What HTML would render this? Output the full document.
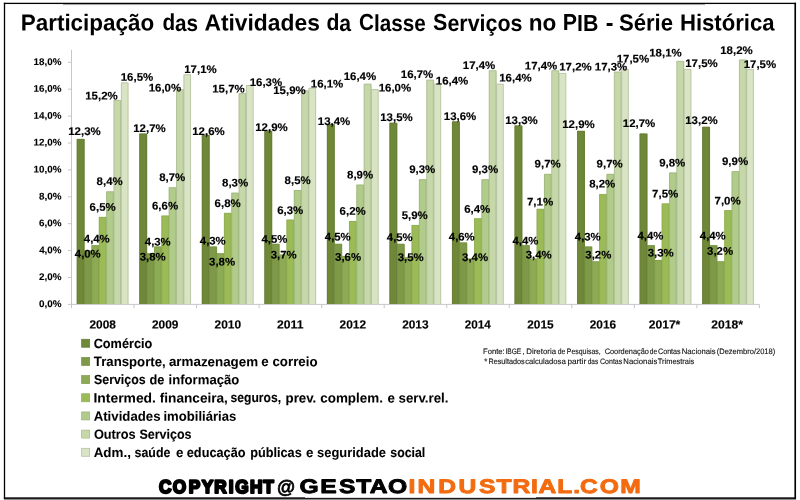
<!DOCTYPE html>
<html lang="pt-BR">
<head>
<meta charset="utf-8">
<title>Participação das Atividades da Classe Serviços no PIB - Série Histórica</title>
<style>
html,body{margin:0;padding:0;background:#fff;}
body{width:800px;height:500px;overflow:hidden;font-family:"Liberation Sans", sans-serif;}
svg{display:block;}
svg text{font-family:"Liberation Sans", sans-serif;font-weight:bold;fill:#000;text-rendering:geometricPrecision;}
svg .b text{stroke:#000;stroke-width:0.15px;stroke-linejoin:round;}
svg .l text{stroke:#000;stroke-width:0.05px;stroke-linejoin:round;}
svg .y text{stroke:#000;stroke-width:0.1px;stroke-linejoin:round;}
svg text.n{font-weight:normal;fill:#111;stroke:#111;stroke-width:0.12px;}
svg .or text{fill:#f36b10;stroke:#f36b10;}
</style>
</head>
<body>
<svg width="800" height="500" viewBox="0 0 800 500" role="img" aria-label="Participação das Atividades da Classe Serviços no PIB - Série Histórica">
<rect x="0" y="0" width="800" height="500" fill="#ffffff"/>
<rect x="4" y="498.9" width="792" height="1.1" fill="#8c8c8c"/>
<rect x="63" y="4" width="642" height="1.1" fill="#b4b4b4"/>
<g fill="#000">
<rect x="3.85" y="2.75" width="1.3" height="496.15"/>
<rect x="794.4" y="2.75" width="1.65" height="496.15"/>
<rect x="3.85" y="2.75" width="792.2" height="1.3"/>
<rect x="3.85" y="497.85" width="792.2" height="1.05"/>
<rect x="3.85" y="497.3" width="301.2" height="0.6"/>
<rect x="536" y="497.3" width="260" height="0.6"/>
</g>
<g font-size="23.2">
<text x="20.7" y="30.5" transform="rotate(0.03 20.7 30.5)" textLength="133.58" lengthAdjust="spacingAndGlyphs">Participação</text>
<text x="162.45" y="30.5" transform="rotate(0.03 162.45 30.5)" textLength="35.7" lengthAdjust="spacingAndGlyphs">das</text>
<text x="204.43" y="30.5" transform="rotate(0.03 204.43 30.5)" textLength="115.4" lengthAdjust="spacingAndGlyphs">Atividades</text>
<text x="326.43" y="30.5" transform="rotate(0.03 326.43 30.5)" textLength="24.73" lengthAdjust="spacingAndGlyphs">da</text>
<text x="358.95" y="30.5" transform="rotate(0.03 358.95 30.5)" textLength="66.76" lengthAdjust="spacingAndGlyphs">Classe</text>
<text x="433.08" y="30.5" transform="rotate(0.03 433.08 30.5)" textLength="89.4" lengthAdjust="spacingAndGlyphs">Serviços</text>
<text x="528.81" y="30.5" transform="rotate(0.03 528.81 30.5)" textLength="27.57" lengthAdjust="spacingAndGlyphs">no</text>
<text x="562.87" y="30.5" transform="rotate(0.03 562.87 30.5)" textLength="35.6" lengthAdjust="spacingAndGlyphs">PIB</text>
<text x="605.65" y="30.5" transform="rotate(0.03 605.65 30.5)">-</text>
<text x="618.96" y="30.5" transform="rotate(0.03 618.96 30.5)" textLength="54.09" lengthAdjust="spacingAndGlyphs">Série</text>
<text x="679.92" y="30.5" transform="rotate(0.03 679.92 30.5)" textLength="94.74" lengthAdjust="spacingAndGlyphs">Histórica</text>
</g>
<g stroke="#c6c6cc" stroke-width="1" fill="none">
<line x1="71.5" y1="49.7" x2="71.5" y2="304.9"/>
<line x1="71.5" y1="304.4" x2="759.44" y2="304.4"/>
<line x1="67.9" y1="304.4" x2="71.5" y2="304.4"/>
<line x1="67.9" y1="277.5" x2="71.5" y2="277.5"/>
<line x1="67.9" y1="250.6" x2="71.5" y2="250.6"/>
<line x1="67.9" y1="223.7" x2="71.5" y2="223.7"/>
<line x1="67.9" y1="196.8" x2="71.5" y2="196.8"/>
<line x1="67.9" y1="169.9" x2="71.5" y2="169.9"/>
<line x1="67.9" y1="143" x2="71.5" y2="143"/>
<line x1="67.9" y1="116.1" x2="71.5" y2="116.1"/>
<line x1="67.9" y1="89.2" x2="71.5" y2="89.2"/>
<line x1="67.9" y1="62.3" x2="71.5" y2="62.3"/>
<line x1="71.5" y1="304.4" x2="71.5" y2="308.2"/>
<line x1="134.04" y1="304.4" x2="134.04" y2="308.2"/>
<line x1="196.58" y1="304.4" x2="196.58" y2="308.2"/>
<line x1="259.12" y1="304.4" x2="259.12" y2="308.2"/>
<line x1="321.66" y1="304.4" x2="321.66" y2="308.2"/>
<line x1="384.2" y1="304.4" x2="384.2" y2="308.2"/>
<line x1="446.74" y1="304.4" x2="446.74" y2="308.2"/>
<line x1="509.28" y1="304.4" x2="509.28" y2="308.2"/>
<line x1="571.82" y1="304.4" x2="571.82" y2="308.2"/>
<line x1="634.36" y1="304.4" x2="634.36" y2="308.2"/>
<line x1="696.9" y1="304.4" x2="696.9" y2="308.2"/>
<line x1="759.44" y1="304.4" x2="759.44" y2="308.2"/>
</g>
<g class="y" font-size="9.6">
<text x="38.91" y="307" transform="rotate(0.03 38.91 307)" textLength="22.55" lengthAdjust="spacingAndGlyphs">0,0%</text>
<text x="38.96" y="280.1" transform="rotate(0.03 38.96 280.1)" textLength="22.5" lengthAdjust="spacingAndGlyphs">2,0%</text>
<text x="39.15" y="253.2" transform="rotate(0.03 39.15 253.2)" textLength="22.31" lengthAdjust="spacingAndGlyphs">4,0%</text>
<text x="38.94" y="226.3" transform="rotate(0.03 38.94 226.3)" textLength="22.52" lengthAdjust="spacingAndGlyphs">6,0%</text>
<text x="38.99" y="199.4" transform="rotate(0.03 38.99 199.4)" textLength="22.47" lengthAdjust="spacingAndGlyphs">8,0%</text>
<text x="33.58" y="172.5" transform="rotate(0.03 33.58 172.5)" textLength="27.88" lengthAdjust="spacingAndGlyphs">10,0%</text>
<text x="33.58" y="145.6" transform="rotate(0.03 33.58 145.6)" textLength="27.88" lengthAdjust="spacingAndGlyphs">12,0%</text>
<text x="33.58" y="118.7" transform="rotate(0.03 33.58 118.7)" textLength="27.88" lengthAdjust="spacingAndGlyphs">14,0%</text>
<text x="33.58" y="91.8" transform="rotate(0.03 33.58 91.8)" textLength="27.88" lengthAdjust="spacingAndGlyphs">16,0%</text>
<text x="33.58" y="64.9" transform="rotate(0.03 33.58 64.9)" textLength="27.88" lengthAdjust="spacingAndGlyphs">18,0%</text>
</g>
<g>
<rect x="76.8" y="138.96" width="7.87" height="165.04" fill="#6f8837"/>
<rect x="84.17" y="250.6" width="7.87" height="53.4" fill="#7e9a49"/>
<rect x="91.54" y="245.22" width="7.87" height="58.78" fill="#8daa55"/>
<rect x="98.91" y="216.97" width="7.87" height="87.03" fill="#9bbb57"/>
<rect x="106.28" y="191.42" width="7.87" height="112.58" fill="#b1cb8a"/>
<rect x="113.65" y="99.96" width="7.87" height="204.04" fill="#c6d7a9"/>
<rect x="121.02" y="82.47" width="7.37" height="221.53" fill="#d8e4c3"/>
<rect x="139.34" y="133.59" width="7.87" height="170.41" fill="#6f8837"/>
<rect x="146.71" y="253.29" width="7.87" height="50.71" fill="#7e9a49"/>
<rect x="154.08" y="246.56" width="7.87" height="57.44" fill="#8daa55"/>
<rect x="161.45" y="215.63" width="7.87" height="88.37" fill="#9bbb57"/>
<rect x="168.82" y="187.38" width="7.87" height="116.62" fill="#b1cb8a"/>
<rect x="176.19" y="89.2" width="7.87" height="214.8" fill="#c6d7a9"/>
<rect x="183.56" y="74.4" width="7.37" height="229.6" fill="#d8e4c3"/>
<rect x="201.88" y="134.93" width="7.87" height="169.07" fill="#6f8837"/>
<rect x="209.25" y="246.56" width="7.87" height="57.44" fill="#7e9a49"/>
<rect x="216.62" y="253.29" width="7.87" height="50.71" fill="#8daa55"/>
<rect x="223.99" y="212.94" width="7.87" height="91.06" fill="#9bbb57"/>
<rect x="231.36" y="192.76" width="7.87" height="111.24" fill="#b1cb8a"/>
<rect x="238.73" y="93.23" width="7.87" height="210.77" fill="#c6d7a9"/>
<rect x="246.1" y="85.16" width="7.37" height="218.84" fill="#d8e4c3"/>
<rect x="264.42" y="130.89" width="7.87" height="173.11" fill="#6f8837"/>
<rect x="271.79" y="243.87" width="7.87" height="60.13" fill="#7e9a49"/>
<rect x="279.16" y="254.63" width="7.87" height="49.37" fill="#8daa55"/>
<rect x="286.53" y="219.66" width="7.87" height="84.34" fill="#9bbb57"/>
<rect x="293.9" y="190.07" width="7.87" height="113.93" fill="#b1cb8a"/>
<rect x="301.27" y="90.54" width="7.87" height="213.46" fill="#c6d7a9"/>
<rect x="308.64" y="87.85" width="7.37" height="216.15" fill="#d8e4c3"/>
<rect x="326.96" y="124.17" width="7.87" height="179.83" fill="#6f8837"/>
<rect x="334.33" y="243.87" width="7.87" height="60.13" fill="#7e9a49"/>
<rect x="341.7" y="255.98" width="7.87" height="48.02" fill="#8daa55"/>
<rect x="349.07" y="221.01" width="7.87" height="82.99" fill="#9bbb57"/>
<rect x="356.44" y="184.69" width="7.87" height="119.31" fill="#b1cb8a"/>
<rect x="363.81" y="83.82" width="7.87" height="220.18" fill="#c6d7a9"/>
<rect x="371.18" y="89.2" width="7.37" height="214.8" fill="#d8e4c3"/>
<rect x="389.5" y="122.82" width="7.87" height="181.18" fill="#6f8837"/>
<rect x="396.87" y="243.87" width="7.87" height="60.13" fill="#7e9a49"/>
<rect x="404.24" y="257.32" width="7.87" height="46.68" fill="#8daa55"/>
<rect x="411.61" y="225.04" width="7.87" height="78.96" fill="#9bbb57"/>
<rect x="418.98" y="179.31" width="7.87" height="124.69" fill="#b1cb8a"/>
<rect x="426.35" y="79.78" width="7.87" height="224.22" fill="#c6d7a9"/>
<rect x="433.72" y="83.82" width="7.37" height="220.18" fill="#d8e4c3"/>
<rect x="452.04" y="121.48" width="7.87" height="182.52" fill="#6f8837"/>
<rect x="459.41" y="242.53" width="7.87" height="61.47" fill="#7e9a49"/>
<rect x="466.78" y="258.67" width="7.87" height="45.33" fill="#8daa55"/>
<rect x="474.15" y="218.32" width="7.87" height="85.68" fill="#9bbb57"/>
<rect x="481.52" y="179.31" width="7.87" height="124.69" fill="#b1cb8a"/>
<rect x="488.89" y="70.37" width="7.87" height="233.63" fill="#c6d7a9"/>
<rect x="496.26" y="83.82" width="7.37" height="220.18" fill="#d8e4c3"/>
<rect x="514.58" y="125.51" width="7.87" height="178.49" fill="#6f8837"/>
<rect x="521.95" y="245.22" width="7.87" height="58.78" fill="#7e9a49"/>
<rect x="529.32" y="258.67" width="7.87" height="45.33" fill="#8daa55"/>
<rect x="536.69" y="208.9" width="7.87" height="95.1" fill="#9bbb57"/>
<rect x="544.06" y="173.94" width="7.87" height="130.06" fill="#b1cb8a"/>
<rect x="551.43" y="70.37" width="7.87" height="233.63" fill="#c6d7a9"/>
<rect x="558.8" y="73.06" width="7.37" height="230.94" fill="#d8e4c3"/>
<rect x="577.12" y="130.89" width="7.87" height="173.11" fill="#6f8837"/>
<rect x="584.49" y="246.56" width="7.87" height="57.44" fill="#7e9a49"/>
<rect x="591.86" y="261.36" width="7.87" height="42.64" fill="#8daa55"/>
<rect x="599.23" y="194.11" width="7.87" height="109.89" fill="#9bbb57"/>
<rect x="606.6" y="173.94" width="7.87" height="130.06" fill="#b1cb8a"/>
<rect x="613.97" y="71.71" width="7.87" height="232.29" fill="#c6d7a9"/>
<rect x="621.34" y="69.02" width="7.37" height="234.98" fill="#d8e4c3"/>
<rect x="639.66" y="133.59" width="7.87" height="170.41" fill="#6f8837"/>
<rect x="647.03" y="245.22" width="7.87" height="58.78" fill="#7e9a49"/>
<rect x="654.4" y="260.01" width="7.87" height="43.99" fill="#8daa55"/>
<rect x="661.77" y="203.52" width="7.87" height="100.48" fill="#9bbb57"/>
<rect x="669.14" y="172.59" width="7.87" height="131.41" fill="#b1cb8a"/>
<rect x="676.51" y="60.95" width="7.87" height="243.05" fill="#c6d7a9"/>
<rect x="683.88" y="69.02" width="7.37" height="234.98" fill="#d8e4c3"/>
<rect x="702.2" y="126.86" width="7.87" height="177.14" fill="#6f8837"/>
<rect x="709.57" y="245.22" width="7.87" height="58.78" fill="#7e9a49"/>
<rect x="716.94" y="261.36" width="7.87" height="42.64" fill="#8daa55"/>
<rect x="724.31" y="210.25" width="7.87" height="93.75" fill="#9bbb57"/>
<rect x="731.68" y="171.24" width="7.87" height="132.76" fill="#b1cb8a"/>
<rect x="739.05" y="59.61" width="7.87" height="244.39" fill="#c6d7a9"/>
<rect x="746.42" y="69.02" width="7.37" height="234.98" fill="#d8e4c3"/>
</g>
<g fill="none" stroke-width="0.7">
<path d="M77.15 304V139.31H83.82V304" stroke="#66783c"/>
<path d="M84.52 304V250.95H91.19V304" stroke="#748f42"/>
<path d="M91.89 304V245.57H98.56V304" stroke="#7f9b47"/>
<path d="M99.26 304V217.32H105.93V304" stroke="#8eab50"/>
<path d="M106.63 304V191.77H113.3V304" stroke="#9ab279"/>
<path d="M114 304V100.31H120.67V304" stroke="#a8b88f"/>
<path d="M121.37 304V82.82H128.04V304" stroke="#b0bb9c"/>
<path d="M139.69 304V133.94H146.36V304" stroke="#66783c"/>
<path d="M147.06 304V253.64H153.73V304" stroke="#748f42"/>
<path d="M154.43 304V246.91H161.1V304" stroke="#7f9b47"/>
<path d="M161.8 304V215.98H168.47V304" stroke="#8eab50"/>
<path d="M169.17 304V187.73H175.84V304" stroke="#9ab279"/>
<path d="M176.54 304V89.55H183.21V304" stroke="#a8b88f"/>
<path d="M183.91 304V74.75H190.58V304" stroke="#b0bb9c"/>
<path d="M202.23 304V135.28H208.9V304" stroke="#66783c"/>
<path d="M209.6 304V246.91H216.27V304" stroke="#748f42"/>
<path d="M216.97 304V253.64H223.64V304" stroke="#7f9b47"/>
<path d="M224.34 304V213.29H231.01V304" stroke="#8eab50"/>
<path d="M231.71 304V193.11H238.38V304" stroke="#9ab279"/>
<path d="M239.08 304V93.58H245.75V304" stroke="#a8b88f"/>
<path d="M246.45 304V85.51H253.12V304" stroke="#b0bb9c"/>
<path d="M264.77 304V131.24H271.44V304" stroke="#66783c"/>
<path d="M272.14 304V244.22H278.81V304" stroke="#748f42"/>
<path d="M279.51 304V254.98H286.18V304" stroke="#7f9b47"/>
<path d="M286.88 304V220.01H293.55V304" stroke="#8eab50"/>
<path d="M294.25 304V190.42H300.92V304" stroke="#9ab279"/>
<path d="M301.62 304V90.89H308.29V304" stroke="#a8b88f"/>
<path d="M308.99 304V88.2H315.66V304" stroke="#b0bb9c"/>
<path d="M327.31 304V124.52H333.98V304" stroke="#66783c"/>
<path d="M334.68 304V244.22H341.35V304" stroke="#748f42"/>
<path d="M342.05 304V256.33H348.72V304" stroke="#7f9b47"/>
<path d="M349.42 304V221.36H356.09V304" stroke="#8eab50"/>
<path d="M356.79 304V185.04H363.46V304" stroke="#9ab279"/>
<path d="M364.16 304V84.17H370.83V304" stroke="#a8b88f"/>
<path d="M371.53 304V89.55H378.2V304" stroke="#b0bb9c"/>
<path d="M389.85 304V123.17H396.52V304" stroke="#66783c"/>
<path d="M397.22 304V244.22H403.89V304" stroke="#748f42"/>
<path d="M404.59 304V257.68H411.26V304" stroke="#7f9b47"/>
<path d="M411.96 304V225.39H418.63V304" stroke="#8eab50"/>
<path d="M419.33 304V179.66H426V304" stroke="#9ab279"/>
<path d="M426.7 304V80.13H433.37V304" stroke="#a8b88f"/>
<path d="M434.07 304V84.17H440.74V304" stroke="#b0bb9c"/>
<path d="M452.39 304V121.83H459.06V304" stroke="#66783c"/>
<path d="M459.76 304V242.88H466.43V304" stroke="#748f42"/>
<path d="M467.13 304V259.02H473.8V304" stroke="#7f9b47"/>
<path d="M474.5 304V218.67H481.17V304" stroke="#8eab50"/>
<path d="M481.87 304V179.66H488.54V304" stroke="#9ab279"/>
<path d="M489.24 304V70.72H495.91V304" stroke="#a8b88f"/>
<path d="M496.61 304V84.17H503.28V304" stroke="#b0bb9c"/>
<path d="M514.93 304V125.86H521.6V304" stroke="#66783c"/>
<path d="M522.3 304V245.57H528.97V304" stroke="#748f42"/>
<path d="M529.67 304V259.02H536.34V304" stroke="#7f9b47"/>
<path d="M537.04 304V209.25H543.71V304" stroke="#8eab50"/>
<path d="M544.41 304V174.28H551.08V304" stroke="#9ab279"/>
<path d="M551.78 304V70.72H558.45V304" stroke="#a8b88f"/>
<path d="M559.15 304V73.41H565.82V304" stroke="#b0bb9c"/>
<path d="M577.47 304V131.24H584.14V304" stroke="#66783c"/>
<path d="M584.84 304V246.91H591.51V304" stroke="#748f42"/>
<path d="M592.21 304V261.71H598.88V304" stroke="#7f9b47"/>
<path d="M599.58 304V194.46H606.25V304" stroke="#8eab50"/>
<path d="M606.95 304V174.28H613.62V304" stroke="#9ab279"/>
<path d="M614.32 304V72.06H620.99V304" stroke="#a8b88f"/>
<path d="M621.69 304V69.37H628.36V304" stroke="#b0bb9c"/>
<path d="M640.01 304V133.94H646.68V304" stroke="#66783c"/>
<path d="M647.38 304V245.57H654.05V304" stroke="#748f42"/>
<path d="M654.75 304V260.37H661.42V304" stroke="#7f9b47"/>
<path d="M662.12 304V203.87H668.79V304" stroke="#8eab50"/>
<path d="M669.49 304V172.94H676.16V304" stroke="#9ab279"/>
<path d="M676.86 304V61.3H683.53V304" stroke="#a8b88f"/>
<path d="M684.23 304V69.37H690.9V304" stroke="#b0bb9c"/>
<path d="M702.55 304V127.21H709.22V304" stroke="#66783c"/>
<path d="M709.92 304V245.57H716.59V304" stroke="#748f42"/>
<path d="M717.29 304V261.71H723.96V304" stroke="#7f9b47"/>
<path d="M724.66 304V210.6H731.33V304" stroke="#8eab50"/>
<path d="M732.03 304V171.59H738.7V304" stroke="#9ab279"/>
<path d="M739.4 304V59.96H746.07V304" stroke="#a8b88f"/>
<path d="M746.77 304V69.37H753.44V304" stroke="#b0bb9c"/>
</g>
<g class="b" font-size="11.8">
<text x="89.46" y="328.6" transform="rotate(0.03 89.46 328.6)" textLength="26.38" lengthAdjust="spacingAndGlyphs">2008</text>
<text x="152" y="328.6" transform="rotate(0.03 152 328.6)" textLength="26.45" lengthAdjust="spacingAndGlyphs">2009</text>
<text x="214.54" y="328.6" transform="rotate(0.03 214.54 328.6)" textLength="26.5" lengthAdjust="spacingAndGlyphs">2010</text>
<text x="277.08" y="328.6" transform="rotate(0.03 277.08 328.6)" textLength="26.34" lengthAdjust="spacingAndGlyphs">2011</text>
<text x="339.62" y="328.6" transform="rotate(0.03 339.62 328.6)" textLength="26.49" lengthAdjust="spacingAndGlyphs">2012</text>
<text x="402.16" y="328.6" transform="rotate(0.03 402.16 328.6)" textLength="26.44" lengthAdjust="spacingAndGlyphs">2013</text>
<text x="464.7" y="328.6" transform="rotate(0.03 464.7 328.6)" textLength="26.07" lengthAdjust="spacingAndGlyphs">2014</text>
<text x="527.24" y="328.6" transform="rotate(0.03 527.24 328.6)" textLength="26.34" lengthAdjust="spacingAndGlyphs">2015</text>
<text x="589.78" y="328.6" transform="rotate(0.03 589.78 328.6)" textLength="26.44" lengthAdjust="spacingAndGlyphs">2016</text>
<text x="648.71" y="328.6" transform="rotate(0.03 648.71 328.6)" textLength="31.63" lengthAdjust="spacingAndGlyphs">2017*</text>
<text x="711.25" y="328.6" transform="rotate(0.03 711.25 328.6)" textLength="31.63" lengthAdjust="spacingAndGlyphs">2018*</text>
</g>
<g class="b" font-size="11.1">
<text x="68.28" y="135" transform="rotate(0.03 68.28 135)" textLength="32.42" lengthAdjust="spacingAndGlyphs">12,3%</text>
<text x="74.83" y="257.4" transform="rotate(0.03 74.83 257.4)" textLength="25.87" lengthAdjust="spacingAndGlyphs">4,0%</text>
<text x="83.83" y="242.4" transform="rotate(0.03 83.83 242.4)" textLength="25.87" lengthAdjust="spacingAndGlyphs">4,4%</text>
<text x="89.58" y="210.8" transform="rotate(0.03 89.58 210.8)" textLength="26.12" lengthAdjust="spacingAndGlyphs">6,5%</text>
<text x="96.64" y="185" transform="rotate(0.03 96.64 185)" textLength="26.06" lengthAdjust="spacingAndGlyphs">8,4%</text>
<text x="85.28" y="99.6" transform="rotate(0.03 85.28 99.6)" textLength="32.42" lengthAdjust="spacingAndGlyphs">15,2%</text>
<text x="120.78" y="80.7" transform="rotate(0.03 120.78 80.7)" textLength="32.42" lengthAdjust="spacingAndGlyphs">16,5%</text>
<text x="133.28" y="132" transform="rotate(0.03 133.28 132)" textLength="32.42" lengthAdjust="spacingAndGlyphs">12,7%</text>
<text x="139.74" y="260.4" transform="rotate(0.03 139.74 260.4)" textLength="25.96" lengthAdjust="spacingAndGlyphs">3,8%</text>
<text x="144.83" y="245.4" transform="rotate(0.03 144.83 245.4)" textLength="25.87" lengthAdjust="spacingAndGlyphs">4,3%</text>
<text x="151.98" y="209.4" transform="rotate(0.03 151.98 209.4)" textLength="26.12" lengthAdjust="spacingAndGlyphs">6,6%</text>
<text x="159.24" y="181" transform="rotate(0.03 159.24 181)" textLength="26.06" lengthAdjust="spacingAndGlyphs">8,7%</text>
<text x="148.68" y="91.4" transform="rotate(0.03 148.68 91.4)" textLength="32.42" lengthAdjust="spacingAndGlyphs">16,0%</text>
<text x="184.28" y="73" transform="rotate(0.03 184.28 73)" textLength="32.42" lengthAdjust="spacingAndGlyphs">17,1%</text>
<text x="192.28" y="135" transform="rotate(0.03 192.28 135)" textLength="32.42" lengthAdjust="spacingAndGlyphs">12,6%</text>
<text x="199.83" y="244.4" transform="rotate(0.03 199.83 244.4)" textLength="25.87" lengthAdjust="spacingAndGlyphs">4,3%</text>
<text x="209.14" y="265.4" transform="rotate(0.03 209.14 265.4)" textLength="25.96" lengthAdjust="spacingAndGlyphs">3,8%</text>
<text x="214.58" y="207" transform="rotate(0.03 214.58 207)" textLength="26.12" lengthAdjust="spacingAndGlyphs">6,8%</text>
<text x="222.04" y="186.6" transform="rotate(0.03 222.04 186.6)" textLength="26.06" lengthAdjust="spacingAndGlyphs">8,3%</text>
<text x="212.28" y="92.4" transform="rotate(0.03 212.28 92.4)" textLength="32.42" lengthAdjust="spacingAndGlyphs">15,7%</text>
<text x="249.68" y="86" transform="rotate(0.03 249.68 86)" textLength="32.42" lengthAdjust="spacingAndGlyphs">16,3%</text>
<text x="255.28" y="131" transform="rotate(0.03 255.28 131)" textLength="32.42" lengthAdjust="spacingAndGlyphs">12,9%</text>
<text x="261.43" y="242.8" transform="rotate(0.03 261.43 242.8)" textLength="25.87" lengthAdjust="spacingAndGlyphs">4,5%</text>
<text x="270.74" y="258.4" transform="rotate(0.03 270.74 258.4)" textLength="25.96" lengthAdjust="spacingAndGlyphs">3,7%</text>
<text x="277.18" y="214" transform="rotate(0.03 277.18 214)" textLength="26.12" lengthAdjust="spacingAndGlyphs">6,3%</text>
<text x="284.64" y="184" transform="rotate(0.03 284.64 184)" textLength="26.06" lengthAdjust="spacingAndGlyphs">8,5%</text>
<text x="273.28" y="94" transform="rotate(0.03 273.28 94)" textLength="32.42" lengthAdjust="spacingAndGlyphs">15,9%</text>
<text x="310.88" y="87.6" transform="rotate(0.03 310.88 87.6)" textLength="32.42" lengthAdjust="spacingAndGlyphs">16,1%</text>
<text x="317.88" y="125" transform="rotate(0.03 317.88 125)" textLength="32.42" lengthAdjust="spacingAndGlyphs">13,4%</text>
<text x="324.83" y="240.4" transform="rotate(0.03 324.83 240.4)" textLength="25.87" lengthAdjust="spacingAndGlyphs">4,5%</text>
<text x="335.14" y="260.8" transform="rotate(0.03 335.14 260.8)" textLength="25.96" lengthAdjust="spacingAndGlyphs">3,6%</text>
<text x="339.58" y="214.8" transform="rotate(0.03 339.58 214.8)" textLength="26.12" lengthAdjust="spacingAndGlyphs">6,2%</text>
<text x="347.04" y="178.4" transform="rotate(0.03 347.04 178.4)" textLength="26.06" lengthAdjust="spacingAndGlyphs">8,9%</text>
<text x="343.68" y="80" transform="rotate(0.03 343.68 80)" textLength="32.42" lengthAdjust="spacingAndGlyphs">16,4%</text>
<text x="378.68" y="91.4" transform="rotate(0.03 378.68 91.4)" textLength="32.42" lengthAdjust="spacingAndGlyphs">16,0%</text>
<text x="380.28" y="121" transform="rotate(0.03 380.28 121)" textLength="32.42" lengthAdjust="spacingAndGlyphs">13,5%</text>
<text x="386.83" y="241" transform="rotate(0.03 386.83 241)" textLength="25.87" lengthAdjust="spacingAndGlyphs">4,5%</text>
<text x="397.74" y="261" transform="rotate(0.03 397.74 261)" textLength="25.96" lengthAdjust="spacingAndGlyphs">3,5%</text>
<text x="401.65" y="219" transform="rotate(0.03 401.65 219)" textLength="26.05" lengthAdjust="spacingAndGlyphs">5,9%</text>
<text x="409.2" y="173" transform="rotate(0.03 409.2 173)" textLength="26.1" lengthAdjust="spacingAndGlyphs">9,3%</text>
<text x="400.88" y="78" transform="rotate(0.03 400.88 78)" textLength="32.42" lengthAdjust="spacingAndGlyphs">16,7%</text>
<text x="435.88" y="84.4" transform="rotate(0.03 435.88 84.4)" textLength="32.42" lengthAdjust="spacingAndGlyphs">16,4%</text>
<text x="443.88" y="120" transform="rotate(0.03 443.88 120)" textLength="32.42" lengthAdjust="spacingAndGlyphs">13,6%</text>
<text x="448.83" y="240.4" transform="rotate(0.03 448.83 240.4)" textLength="25.87" lengthAdjust="spacingAndGlyphs">4,6%</text>
<text x="462.14" y="261" transform="rotate(0.03 462.14 261)" textLength="25.96" lengthAdjust="spacingAndGlyphs">3,4%</text>
<text x="464.18" y="212.8" transform="rotate(0.03 464.18 212.8)" textLength="26.12" lengthAdjust="spacingAndGlyphs">6,4%</text>
<text x="472" y="173" transform="rotate(0.03 472 173)" textLength="26.1" lengthAdjust="spacingAndGlyphs">9,3%</text>
<text x="462.88" y="69" transform="rotate(0.03 462.88 69)" textLength="32.42" lengthAdjust="spacingAndGlyphs">17,4%</text>
<text x="499.28" y="81.6" transform="rotate(0.03 499.28 81.6)" textLength="32.42" lengthAdjust="spacingAndGlyphs">16,4%</text>
<text x="505.28" y="124" transform="rotate(0.03 505.28 124)" textLength="32.42" lengthAdjust="spacingAndGlyphs">13,3%</text>
<text x="512.43" y="244.4" transform="rotate(0.03 512.43 244.4)" textLength="25.87" lengthAdjust="spacingAndGlyphs">4,4%</text>
<text x="525.74" y="258.4" transform="rotate(0.03 525.74 258.4)" textLength="25.96" lengthAdjust="spacingAndGlyphs">3,4%</text>
<text x="526.91" y="205.4" transform="rotate(0.03 526.91 205.4)" textLength="26.2" lengthAdjust="spacingAndGlyphs">7,1%</text>
<text x="534.6" y="167.6" transform="rotate(0.03 534.6 167.6)" textLength="26.1" lengthAdjust="spacingAndGlyphs">9,7%</text>
<text x="524.88" y="69.6" transform="rotate(0.03 524.88 69.6)" textLength="32.42" lengthAdjust="spacingAndGlyphs">17,4%</text>
<text x="559.28" y="70.4" transform="rotate(0.03 559.28 70.4)" textLength="32.42" lengthAdjust="spacingAndGlyphs">17,2%</text>
<text x="562.28" y="128" transform="rotate(0.03 562.28 128)" textLength="32.42" lengthAdjust="spacingAndGlyphs">12,9%</text>
<text x="574.83" y="240.4" transform="rotate(0.03 574.83 240.4)" textLength="25.87" lengthAdjust="spacingAndGlyphs">4,3%</text>
<text x="585.34" y="258.4" transform="rotate(0.03 585.34 258.4)" textLength="25.96" lengthAdjust="spacingAndGlyphs">3,2%</text>
<text x="589.24" y="187.6" transform="rotate(0.03 589.24 187.6)" textLength="26.06" lengthAdjust="spacingAndGlyphs">8,2%</text>
<text x="596.6" y="167.6" transform="rotate(0.03 596.6 167.6)" textLength="26.1" lengthAdjust="spacingAndGlyphs">9,7%</text>
<text x="594.88" y="70.4" transform="rotate(0.03 594.88 70.4)" textLength="32.42" lengthAdjust="spacingAndGlyphs">17,3%</text>
<text x="616.68" y="62.6" transform="rotate(0.03 616.68 62.6)" textLength="32.42" lengthAdjust="spacingAndGlyphs">17,5%</text>
<text x="622.88" y="127" transform="rotate(0.03 622.88 127)" textLength="32.42" lengthAdjust="spacingAndGlyphs">12,7%</text>
<text x="637.43" y="239.4" transform="rotate(0.03 637.43 239.4)" textLength="25.87" lengthAdjust="spacingAndGlyphs">4,4%</text>
<text x="647.74" y="256.4" transform="rotate(0.03 647.74 256.4)" textLength="25.96" lengthAdjust="spacingAndGlyphs">3,3%</text>
<text x="652.11" y="197.6" transform="rotate(0.03 652.11 197.6)" textLength="26.2" lengthAdjust="spacingAndGlyphs">7,5%</text>
<text x="659.2" y="166.4" transform="rotate(0.03 659.2 166.4)" textLength="26.1" lengthAdjust="spacingAndGlyphs">9,8%</text>
<text x="649.28" y="56.4" transform="rotate(0.03 649.28 56.4)" textLength="32.42" lengthAdjust="spacingAndGlyphs">18,1%</text>
<text x="685.28" y="67" transform="rotate(0.03 685.28 67)" textLength="32.42" lengthAdjust="spacingAndGlyphs">17,5%</text>
<text x="685.28" y="124" transform="rotate(0.03 685.28 124)" textLength="32.42" lengthAdjust="spacingAndGlyphs">13,2%</text>
<text x="699.83" y="239.4" transform="rotate(0.03 699.83 239.4)" textLength="25.87" lengthAdjust="spacingAndGlyphs">4,4%</text>
<text x="707.14" y="254.8" transform="rotate(0.03 707.14 254.8)" textLength="25.96" lengthAdjust="spacingAndGlyphs">3,2%</text>
<text x="714.51" y="204.4" transform="rotate(0.03 714.51 204.4)" textLength="26.2" lengthAdjust="spacingAndGlyphs">7,0%</text>
<text x="722" y="165" transform="rotate(0.03 722 165)" textLength="26.1" lengthAdjust="spacingAndGlyphs">9,9%</text>
<text x="720.28" y="54" transform="rotate(0.03 720.28 54)" textLength="32.42" lengthAdjust="spacingAndGlyphs">18,2%</text>
<text x="743.68" y="68" transform="rotate(0.03 743.68 68)" textLength="32.42" lengthAdjust="spacingAndGlyphs">17,5%</text>
</g>
<g class="l" font-size="13.3">
<rect x="81.65" y="339.25" width="8" height="8" fill="#6f8837" stroke="#66783c" stroke-width="0.7"/>
<text x="93.68" y="347.95" transform="rotate(0.03 93.68 347.95)" textLength="58.62" lengthAdjust="spacingAndGlyphs" style="stroke-width:0.09px">Comércio</text>
<rect x="81.65" y="357.42" width="8" height="8" fill="#7e9a49" stroke="#748f42" stroke-width="0.7"/>
<text x="93.85" y="366.12" transform="rotate(0.03 93.85 366.12)" textLength="71.82" lengthAdjust="spacingAndGlyphs">Transporte,</text>
<text x="168.91" y="366.12" transform="rotate(0.03 168.91 366.12)" textLength="89.22" lengthAdjust="spacingAndGlyphs">armazenagem</text>
<text x="261.27" y="366.12" transform="rotate(0.03 261.27 366.12)">e</text>
<text x="272.48" y="366.12" transform="rotate(0.03 272.48 366.12)" textLength="45.04" lengthAdjust="spacingAndGlyphs">correio</text>
<rect x="81.65" y="375.59" width="8" height="8" fill="#8daa55" stroke="#7f9b47" stroke-width="0.7"/>
<text x="94.04" y="384.29" transform="rotate(0.03 94.04 384.29)" textLength="51.56" lengthAdjust="spacingAndGlyphs" style="stroke-width:0.11px">Serviços</text>
<text x="149.48" y="384.29" transform="rotate(0.03 149.48 384.29)" textLength="14.86" lengthAdjust="spacingAndGlyphs" style="stroke-width:0.09px">de</text>
<text x="168.58" y="384.29" transform="rotate(0.03 168.58 384.29)" textLength="70.73" lengthAdjust="spacingAndGlyphs">informação</text>
<rect x="81.65" y="393.76" width="8" height="8" fill="#9bbb57" stroke="#8eab50" stroke-width="0.7"/>
<text x="93.47" y="402.46" transform="rotate(0.03 93.47 402.46)" textLength="62.48" lengthAdjust="spacingAndGlyphs">Intermed.</text>
<text x="159.77" y="402.46" transform="rotate(0.03 159.77 402.46)" textLength="68.14" lengthAdjust="spacingAndGlyphs">financeira,</text>
<text x="230.57" y="402.46" transform="rotate(0.03 230.57 402.46)" textLength="50.43" lengthAdjust="spacingAndGlyphs" style="stroke-width:0.13px">seguros,</text>
<text x="285.55" y="402.46" transform="rotate(0.03 285.55 402.46)" textLength="30.73" lengthAdjust="spacingAndGlyphs" style="stroke-width:0.08px">prev.</text>
<text x="320.28" y="402.46" transform="rotate(0.03 320.28 402.46)" textLength="62.65" lengthAdjust="spacingAndGlyphs">complem.</text>
<text x="387.47" y="402.46" transform="rotate(0.03 387.47 402.46)">e</text>
<text x="398.54" y="402.46" transform="rotate(0.03 398.54 402.46)" textLength="49.85" lengthAdjust="spacingAndGlyphs">serv.rel.</text>
<rect x="81.65" y="411.93" width="8" height="8" fill="#b1cb8a" stroke="#9ab279" stroke-width="0.7"/>
<text x="93.67" y="420.63" transform="rotate(0.03 93.67 420.63)" textLength="66.87" lengthAdjust="spacingAndGlyphs">Atividades</text>
<text x="163.49" y="420.63" transform="rotate(0.03 163.49 420.63)" textLength="72.75" lengthAdjust="spacingAndGlyphs">imobiliárias</text>
<rect x="81.65" y="430.1" width="8" height="8" fill="#c6d7a9" stroke="#a8b88f" stroke-width="0.7"/>
<text x="93.88" y="438.8" transform="rotate(0.03 93.88 438.8)" textLength="41.85" lengthAdjust="spacingAndGlyphs" style="stroke-width:0.09px">Outros</text>
<text x="139.44" y="438.8" transform="rotate(0.03 139.44 438.8)" textLength="52.07" lengthAdjust="spacingAndGlyphs" style="stroke-width:0.1px">Serviços</text>
<rect x="81.65" y="448.27" width="8" height="8" fill="#d8e4c3" stroke="#b0bb9c" stroke-width="0.7"/>
<text x="93.67" y="456.97" transform="rotate(0.03 93.67 456.97)" textLength="37.23" lengthAdjust="spacingAndGlyphs">Adm.,</text>
<text x="134.56" y="456.97" transform="rotate(0.03 134.56 456.97)" textLength="35.86" lengthAdjust="spacingAndGlyphs" style="stroke-width:0.11px">saúde</text>
<text x="175.97" y="456.97" transform="rotate(0.03 175.97 456.97)">e</text>
<text x="186.8" y="456.97" transform="rotate(0.03 186.8 456.97)" textLength="58.69" lengthAdjust="spacingAndGlyphs" style="stroke-width:0.09px">educação</text>
<text x="250.16" y="456.97" transform="rotate(0.03 250.16 456.97)" textLength="51.56" lengthAdjust="spacingAndGlyphs" style="stroke-width:0.09px">públicas</text>
<text x="305.97" y="456.97" transform="rotate(0.03 305.97 456.97)">e</text>
<text x="317.05" y="456.97" transform="rotate(0.03 317.05 456.97)" textLength="69" lengthAdjust="spacingAndGlyphs">seguridade</text>
<text x="390.37" y="456.97" transform="rotate(0.03 390.37 456.97)" textLength="34.9" lengthAdjust="spacingAndGlyphs" style="stroke-width:0.12px">social</text>
</g>
<g font-size="7.9">
<text x="482.97" y="354.1" transform="rotate(0.03 482.97 354.1)" textLength="21.73" lengthAdjust="spacingAndGlyphs" class="n">Fonte:</text>
<text x="505.39" y="354.1" transform="rotate(0.03 505.39 354.1)" textLength="15.9" lengthAdjust="spacingAndGlyphs" class="n">IBGE</text>
<text x="522.5" y="354.1" transform="rotate(0.03 522.5 354.1)" class="n">,</text>
<text x="526.36" y="354.1" transform="rotate(0.03 526.36 354.1)" textLength="29.64" lengthAdjust="spacingAndGlyphs" class="n">Diretoria</text>
<text x="557.71" y="354.1" transform="rotate(0.03 557.71 354.1)" textLength="7.59" lengthAdjust="spacingAndGlyphs" class="n">de</text>
<text x="566.83" y="354.1" transform="rotate(0.03 566.83 354.1)" textLength="33.79" lengthAdjust="spacingAndGlyphs" class="n">Pesquisas,</text>
<text x="604.63" y="354.1" transform="rotate(0.03 604.63 354.1)" textLength="44.28" lengthAdjust="spacingAndGlyphs" class="n">Coordenação</text>
<text x="649.72" y="354.1" transform="rotate(0.03 649.72 354.1)" textLength="7.37" lengthAdjust="spacingAndGlyphs" class="n">de</text>
<text x="658.04" y="354.1" transform="rotate(0.03 658.04 354.1)" textLength="22.62" lengthAdjust="spacingAndGlyphs" class="n">Contas</text>
<text x="681.77" y="354.1" transform="rotate(0.03 681.77 354.1)" textLength="33.81" lengthAdjust="spacingAndGlyphs" class="n">Nacionais</text>
<text x="716.73" y="354.1" transform="rotate(0.03 716.73 354.1)" textLength="58.53" lengthAdjust="spacingAndGlyphs" class="n">(Dezembro/2018)</text>
<text x="484.16" y="364.1" transform="rotate(0.03 484.16 364.1)" class="n">*</text>
<text x="488.41" y="364.1" transform="rotate(0.03 488.41 364.1)" textLength="36.26" lengthAdjust="spacingAndGlyphs" class="n">Resultados</text>
<text x="525.28" y="364.1" transform="rotate(0.03 525.28 364.1)" textLength="36" lengthAdjust="spacingAndGlyphs" class="n">calculados</text>
<text x="561.44" y="364.1" transform="rotate(0.03 561.44 364.1)" class="n">a</text>
<text x="567.47" y="364.1" transform="rotate(0.03 567.47 364.1)" textLength="18.66" lengthAdjust="spacingAndGlyphs" class="n">partir</text>
<text x="587.73" y="364.1" transform="rotate(0.03 587.73 364.1)" textLength="10.51" lengthAdjust="spacingAndGlyphs" class="n">das</text>
<text x="600.04" y="364.1" transform="rotate(0.03 600.04 364.1)" textLength="22.21" lengthAdjust="spacingAndGlyphs" class="n">Contas</text>
<text x="623.37" y="364.1" transform="rotate(0.03 623.37 364.1)" textLength="33.91" lengthAdjust="spacingAndGlyphs" class="n">Nacionais</text>
<text x="657.83" y="364.1" transform="rotate(0.03 657.83 364.1)" textLength="36.43" lengthAdjust="spacingAndGlyphs" class="n">Trimestrais</text>
</g>
<g stroke="#000" stroke-linejoin="round">
<text transform="translate(0 493.3) rotate(0.03 216.5 0) scale(0.93 1)" x="170.99 185.69 203.02 216.94 230.42 245.98 252.95 268.81 283.11" y="0" font-size="18.5" stroke-width="2.2">COPYRIGHT</text>
<text x="276.7" y="493.2" transform="rotate(0.03 276.7 493.2)" font-size="18.4" font-style="italic" stroke-width="0.7">@</text>
<text transform="translate(0 492.95) rotate(0.03 352.85 0) scale(1.256 1)" x="238.4 255.05 270 283.62 294.49 308.83" y="0" font-size="19.6" stroke-width="0.9">GESTAO</text>
</g>
<g class="or" stroke-linejoin="round">
<text transform="translate(0 492.95) rotate(0.03 524.88 0) scale(1.256 1)" x="325.3 332.4 348.97 365.11 381.46 395.3 408.07 422.87 428.77 443.78 456.44 461.84 477.54 493.93" y="0" font-size="19.6" stroke-width="0.9">INDUSTRIAL.COM</text>
</g>
</svg>
</body>
</html>
